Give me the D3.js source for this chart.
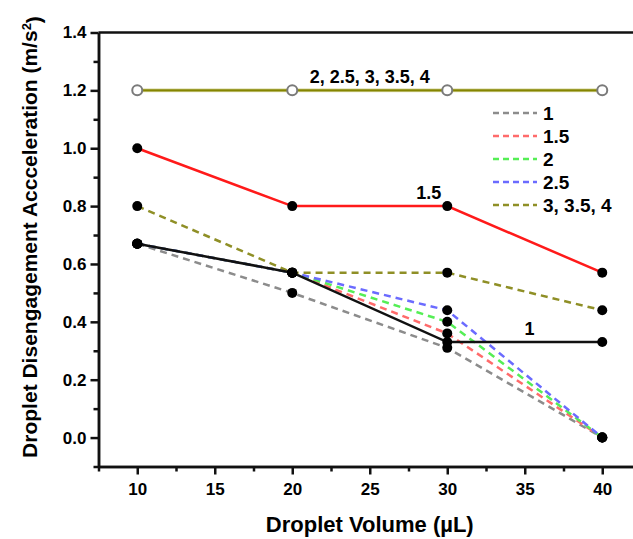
<!DOCTYPE html>
<html>
<head>
<meta charset="utf-8">
<script src="https://cdn.jsdelivr.net/npm/d3@7"></script>
<style>
	body { margin: 0; background: #fff; }
	svg { display: block; font-family: "Liberation Sans", Arial, sans-serif; font-weight: bold; }
</style>
</head>
<body>
<svg id="chart" width="633" height="539"></svg>
<script>
// droplet volumes (uL)
var volumes = [10, 20, 30, 40];
var xTicks = [10, 15, 20, 25, 30, 35, 40];
var xMinor = [7.5, 12.5, 17.5, 22.5, 27.5, 32.5, 37.5, 42.5];
var yTicks = [0, 0.2, 0.4, 0.6, 0.8, 1.0, 1.2, 1.4];
var yMinor = [-0.1, 0.1, 0.3, 0.5, 0.7, 0.9, 1.1, 1.3];

// solid lines
var solidHigh = [1.2, 1.2, 1.2, 1.2];   // 2, 2.5, 3, 3.5, 4
var solid15 = [1.0, 0.8, 0.8, 0.57];
var solid1 = [0.67, 0.57, 0.33, 0.33];

// dashed lines
var dashNames = ["1", "1.5", "2", "2.5", "3, 3.5, 4"];
var dashColors = ["#8c8c8c", "#ff6b6b", "#55ee55", "#6b6bff", "#8f8f26"];
var dash1 = [0.67, 0.5, 0.31, 0.0];
var dash15 = [0.67, 0.57, 0.36, 0.0];
var dash2 = [0.67, 0.57, 0.40, 0.0];
var dash25 = [0.67, 0.57, 0.44, 0.0];
var dash3 = [0.8, 0.57, 0.57, 0.44];

var notes = [
	{ text: "2, 2.5, 3, 3.5, 4", x: 25, y: 1.2 },
	{ text: "1.5", x: 28.8, y: 0.8 },
	{ text: "1", x: 35.3, y: 0.33 }
];

var svg = d3.select("#chart");
var x = d3.scaleLinear().domain([7.5, 42.5]).range([98.5, 641]);
var y = d3.scaleLinear().domain([-0.1, 1.4]).range([466.5, 32.5]);

var line = d3.line()
	.x(function(d, i) { return x(volumes[i]); })
	.y(function(d) { return y(d); });

// dashed series first
var dashed = [dash1, dash15, dash2, dash25, dash3];
dashed.forEach(function(s, k) {
	svg.append("path").attr("d", line(s))
		.attr("fill", "none").attr("stroke", dashColors[k])
		.attr("stroke-width", 2.5).attr("stroke-dasharray", "7,5");
});

// solid series
svg.append("path").attr("d", line(solidHigh)).attr("fill", "none")
	.attr("stroke", "#e2e2b8").attr("stroke-width", 4);
svg.append("path").attr("d", line(solidHigh)).attr("fill", "none")
	.attr("stroke", "#858500").attr("stroke-width", 2.2);
svg.append("path").attr("d", line(solid15)).attr("fill", "none")
	.attr("stroke", "#ff1a1a").attr("stroke-width", 2.5);
svg.append("path").attr("d", line(solid1)).attr("fill", "none")
	.attr("stroke", "#111").attr("stroke-width", 2.5);

// filled dots
var dotSeries = dashed.concat([solid15, solid1]);
dotSeries.forEach(function(s) {
	svg.selectAll(null).data(s).enter().append("circle")
		.attr("cx", function(d, i) { return x(volumes[i]); })
		.attr("cy", function(d) { return y(d); })
		.attr("r", 5).attr("fill", "#000");
});
// open dots
svg.selectAll(null).data(solidHigh).enter().append("circle")
	.attr("cx", function(d, i) { return x(volumes[i]); })
	.attr("cy", function(d) { return y(d); })
	.attr("r", 5).attr("fill", "#fff").attr("stroke", "#7a7a7a").attr("stroke-width", 2);

// axes
svg.append("g").attr("transform", "translate(98.5,0)")
	.call(d3.axisLeft(y).tickValues(yTicks).tickSize(8).tickSizeOuter(0).tickPadding(4).tickFormat(d3.format(".1f")));
svg.append("g").attr("transform", "translate(98.5,0)")
	.call(d3.axisLeft(y).tickValues(yMinor).tickSize(5).tickSizeOuter(0).tickFormat(""));
svg.append("g").attr("transform", "translate(0,466.5)")
	.call(d3.axisBottom(x).tickValues(xTicks).tickSize(8).tickSizeOuter(0).tickPadding(8));
svg.append("g").attr("transform", "translate(0,466.5)")
	.call(d3.axisBottom(x).tickValues(xMinor).tickSize(5).tickSizeOuter(0).tickFormat(""));
svg.selectAll(".domain, .tick line").attr("stroke", "#111").attr("stroke-width", 2.5);
svg.selectAll(".tick text").attr("fill", "#000").style("font-size", "17px").style("font-weight", "bold")
	.style("font-family", "'Liberation Sans', Arial, sans-serif");

// top frame
svg.append("line").attr("x1", x(7.5)).attr("x2", x(42.5))
	.attr("y1", y(1.4)).attr("y2", y(1.4))
	.attr("stroke", "#111").attr("stroke-width", 2.5);

// annotations
svg.selectAll(null).data(notes).enter().append("text")
	.attr("x", function(d) { return x(d.x); })
	.attr("y", function(d) { return y(d.y) - 7; })
	.attr("text-anchor", "middle").style("font-size", "18px")
	.text(function(d) { return d.text; });

// legend
var leg = svg.append("g").attr("transform", "translate(493,113)");
dashNames.forEach(function(n, k) {
	leg.append("line").attr("x1", 0).attr("x2", 44).attr("y1", k * 23).attr("y2", k * 23)
		.attr("stroke", dashColors[k]).attr("stroke-width", 2.5).attr("stroke-dasharray", "6,4");
	leg.append("text").attr("x", 50).attr("y", k * 23).attr("dy", "0.36em")
		.style("font-size", "19px").text(n);
});

// axis titles
svg.append("text").attr("x", x(25)).attr("y", 532).attr("text-anchor", "middle")
	.style("font-size", "22px").text("Droplet Volume (\u00b5L)");
var yt = svg.append("text").attr("transform", "translate(37,237) rotate(-90)")
	.attr("text-anchor", "middle").style("font-size", "21px");
yt.append("tspan").text("Droplet Disengagement Accceleration (m/s");
yt.append("tspan").attr("dy", "-0.45em").style("font-size", "13px").text("2");
yt.append("tspan").attr("dy", "0.45em").text(")");
</script>
</body>
</html>
